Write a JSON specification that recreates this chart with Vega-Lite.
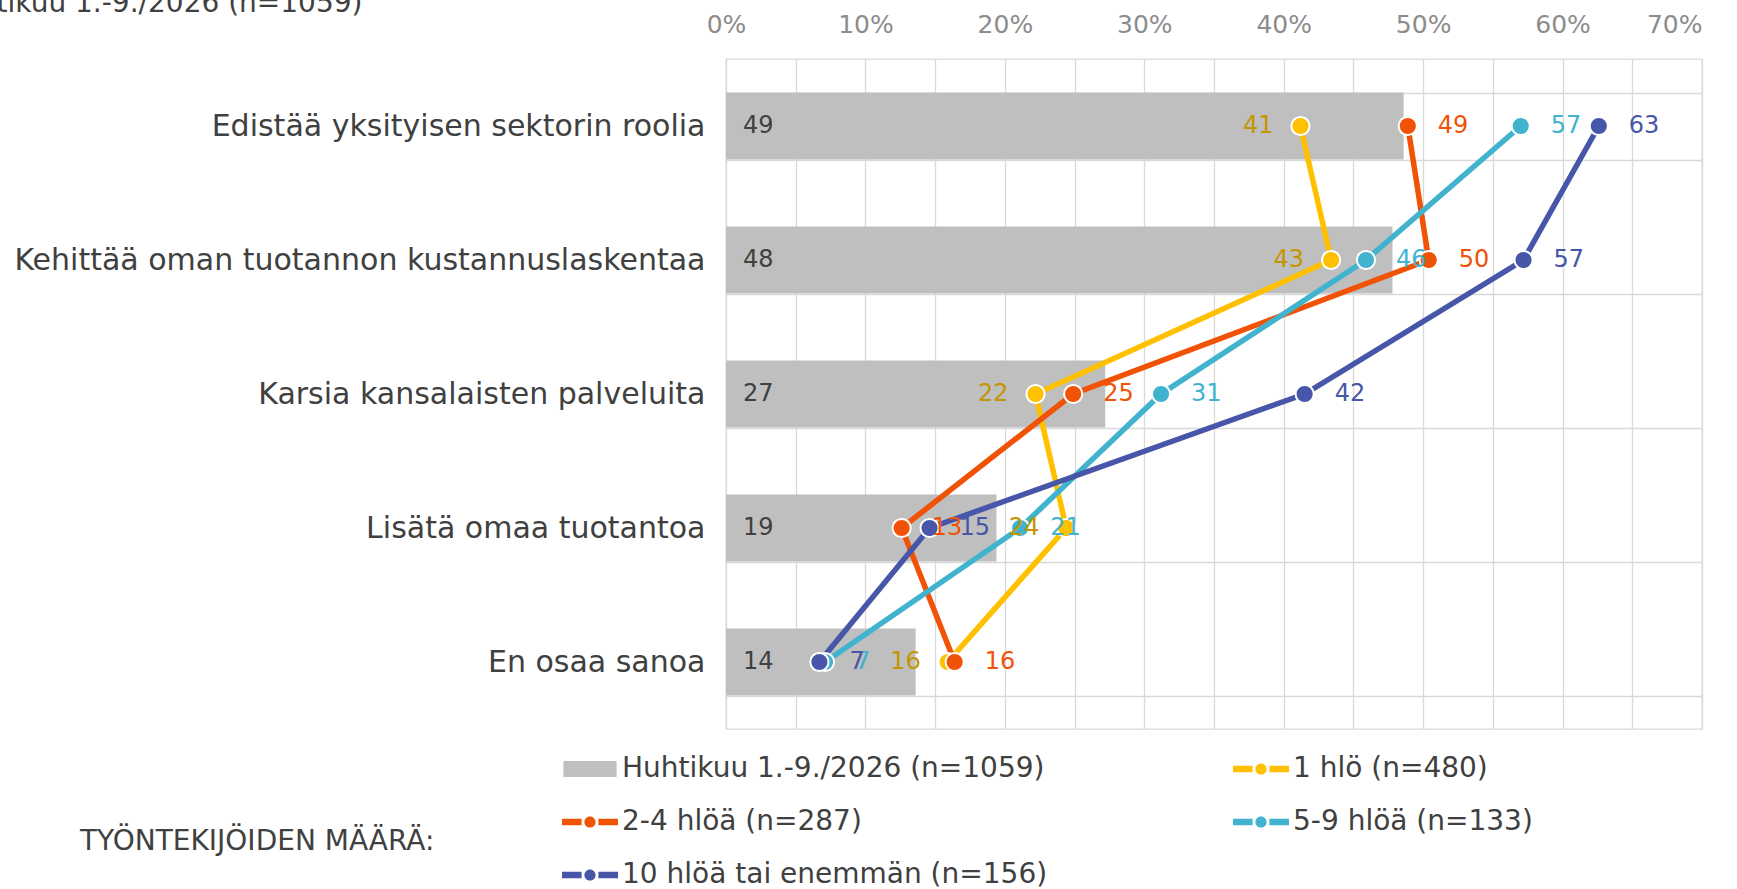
{
  "$schema": "https://vega.github.io/schema/vega-lite/v6.json",
  "autosize": {"type": "none"},
  "width": 976,
  "height": 670,
  "padding": {"left": 726, "top": 59, "right": 35, "bottom": 160},
  "background": "white",
  "title": {
    "text": "Huhtikuu 1.-9./2026 (n=1059)",
    "anchor": "start",
    "frame": "group",
    "fontSize": 28,
    "fontWeight": "normal",
    "color": "#404040",
    "font": "DejaVu Sans",
    "baseline": "alphabetic",
    "dx": -786,
    "dy": 40,
    "offset": 12
  },
  "datasets": {
    "bars": [
      {"category": "Edistää yksityisen sektorin roolia", "series": "Huhtikuu 1.-9./2026 (n=1059)", "value": 48.6},
      {"category": "Kehittää oman tuotannon kustannuslaskentaa", "series": "Huhtikuu 1.-9./2026 (n=1059)", "value": 47.8},
      {"category": "Karsia kansalaisten palveluita", "series": "Huhtikuu 1.-9./2026 (n=1059)", "value": 27.2},
      {"category": "Lisätä omaa tuotantoa", "series": "Huhtikuu 1.-9./2026 (n=1059)", "value": 19.4},
      {"category": "En osaa sanoa", "series": "Huhtikuu 1.-9./2026 (n=1059)", "value": 13.6}
    ],
    "lines": [
      {"category": "Edistää yksityisen sektorin roolia", "idx": 1, "series": "1 hlö (n=480)", "value": 41.2},
      {"category": "Kehittää oman tuotannon kustannuslaskentaa", "idx": 2, "series": "1 hlö (n=480)", "value": 43.4},
      {"category": "Karsia kansalaisten palveluita", "idx": 3, "series": "1 hlö (n=480)", "value": 22.2},
      {"category": "Lisätä omaa tuotantoa", "idx": 4, "series": "1 hlö (n=480)", "value": 24.4},
      {"category": "En osaa sanoa", "idx": 5, "series": "1 hlö (n=480)", "value": 15.9},
      {"category": "Edistää yksityisen sektorin roolia", "idx": 1, "series": "2-4 hlöä (n=287)", "value": 48.9},
      {"category": "Kehittää oman tuotannon kustannuslaskentaa", "idx": 2, "series": "2-4 hlöä (n=287)", "value": 50.4},
      {"category": "Karsia kansalaisten palveluita", "idx": 3, "series": "2-4 hlöä (n=287)", "value": 24.9},
      {"category": "Lisätä omaa tuotantoa", "idx": 4, "series": "2-4 hlöä (n=287)", "value": 12.6},
      {"category": "En osaa sanoa", "idx": 5, "series": "2-4 hlöä (n=287)", "value": 16.4},
      {"category": "Edistää yksityisen sektorin roolia", "idx": 1, "series": "5-9 hlöä (n=133)", "value": 57.0},
      {"category": "Kehittää oman tuotannon kustannuslaskentaa", "idx": 2, "series": "5-9 hlöä (n=133)", "value": 45.9},
      {"category": "Karsia kansalaisten palveluita", "idx": 3, "series": "5-9 hlöä (n=133)", "value": 31.2},
      {"category": "Lisätä omaa tuotantoa", "idx": 4, "series": "5-9 hlöä (n=133)", "value": 21.1},
      {"category": "En osaa sanoa", "idx": 5, "series": "5-9 hlöä (n=133)", "value": 7.1},
      {"category": "Edistää yksityisen sektorin roolia", "idx": 1, "series": "10 hlöä tai enemmän (n=156)", "value": 62.6},
      {"category": "Kehittää oman tuotannon kustannuslaskentaa", "idx": 2, "series": "10 hlöä tai enemmän (n=156)", "value": 57.2},
      {"category": "Karsia kansalaisten palveluita", "idx": 3, "series": "10 hlöä tai enemmän (n=156)", "value": 41.5},
      {"category": "Lisätä omaa tuotantoa", "idx": 4, "series": "10 hlöä tai enemmän (n=156)", "value": 14.6},
      {"category": "En osaa sanoa", "idx": 5, "series": "10 hlöä tai enemmän (n=156)", "value": 6.7}
    ]
  },
  "encoding": {
    "y": {
      "field": "category",
      "type": "nominal",
      "sort": ["Edistää yksityisen sektorin roolia", "Kehittää oman tuotannon kustannuslaskentaa", "Karsia kansalaisten palveluita", "Lisätä omaa tuotantoa", "En osaa sanoa"],
      "scale": {"paddingInner": 0.5, "paddingOuter": 0.25},
      "axis": {
        "title": null,
        "grid": true,
        "gridColor": "#D9D9D9",
        "gridWidth": 1.3,
        "tickBand": "extent",
        "ticks": false,
        "tickSize": 0,
        "domain": false,
        "labelFontSize": 30,
        "labelColor": "#404040",
        "labelPadding": 21,
        "labelLimit": 1000
      }
    },
    "x": {
      "field": "value",
      "type": "quantitative",
      "scale": {"domain": [0, 70], "nice": false},
      "axis": {
        "orient": "top",
        "title": null,
        "values": [0, 5, 10, 15, 20, 25, 30, 35, 40, 45, 50, 55, 60, 65, 70],
        "labelExpr": "datum.value % 10 === 0 ? datum.value + '%' : ''",
        "labelAlign": {"condition": {"test": "datum.value === 70", "value": "right"}, "value": "center"},
        "grid": true,
        "gridColor": "#D9D9D9",
        "gridWidth": 1.3,
        "ticks": false,
        "tickSize": 0,
        "domain": false,
        "labelFontSize": 25,
        "labelColor": "#8C8C8C",
        "labelPadding": 22,
        "labelFlush": false,
        "labelOverlap": false
      }
    }
  },
  "layer": [
    {
      "data": {"name": "bars"},
      "mark": {"type": "bar"},
      "encoding": {
        "color": {
          "field": "series",
          "type": "nominal",
          "scale": {
            "domain": ["Huhtikuu 1.-9./2026 (n=1059)", "1 hlö (n=480)", "2-4 hlöä (n=287)", "5-9 hlöä (n=133)", "10 hlöä tai enemmän (n=156)"],
            "range": ["#BFBFBF", "#FFC000", "#F05206", "#41B3CE", "#4756A8"]
          },
          "legend": {
            "title": "TYÖNTEKIJÖIDEN MÄÄRÄ:",
            "orient": "none",
            "direction": "horizontal",
            "legendX": -646,
            "legendY": 682,
            "columns": 2,
            "gridAlign": "each",
            "columnPadding": 185,
            "rowPadding": 11,
            "padding": 0,
            "titleOrient": "left",
            "titleAnchor": "middle",
            "titleBaseline": "middle",
            "titlePadding": 127,
            "titleFontSize": 28,
            "titleFontWeight": "normal",
            "titleColor": "#404040",
            "titleLimit": 1000,
            "labelFontSize": 28,
            "labelColor": "#404040",
            "labelLimit": 1000,
            "labelOffset": 4,
            "symbolSize": 3136,
            "symbolStrokeWidth": 0,
            "encode": {
              "title": {"update": {"dy": {"value": 27}}},
              "symbols": {
                "update": {
                  "shape": {"signal": "datum.value === 'Huhtikuu 1.-9./2026 (n=1059)' ? 'M-0.95,-0.29H0.95V0.29H-0.95Z' : 'M-1,-0.12H-0.3V0.12H-1Z M0.3,-0.12H1V0.12H0.3Z M0.2,0A0.2,0.2 0 1 1 -0.2,0A0.2,0.2 0 1 1 0.2,0Z'"},
                  "fill": {"signal": "scale('color', datum.value)"},
                  "stroke": {"value": "transparent"},
                  "strokeWidth": {"value": 0},
                  "opacity": {"value": 1},
                  "fillOpacity": {"value": 1}
                }
              }
            }
          }
        }
      }
    },
    {
      "data": {"name": "bars"},
      "mark": {"type": "text", "align": "left", "baseline": "middle", "dx": 17, "fontSize": 24, "color": "#404040"},
      "encoding": {
        "x": {"datum": 0},
        "text": {"field": "value", "format": ".0f"}
      }
    },
    {
      "data": {"name": "lines"},
      "mark": {"type": "line", "strokeWidth": 5.5},
      "encoding": {
        "color": {"field": "series", "type": "nominal"},
        "order": {"field": "idx", "type": "quantitative"},
        "detail": {"field": "series"}
      }
    },
    {
      "data": {"name": "lines"},
      "mark": {"type": "point", "filled": true, "opacity": 1, "size": 330, "stroke": "white", "strokeWidth": 2, "strokeOpacity": 1},
      "encoding": {
        "color": {"field": "series", "type": "nominal"}
      }
    },
    {
      "data": {"name": "lines"},
      "transform": [{"filter": "datum.series === '1 hlö (n=480)'"}],
      "mark": {"type": "text", "align": "right", "baseline": "middle", "dx": -27, "fontSize": 24, "color": "#C39600"},
      "encoding": {
        "text": {"field": "value", "format": ".0f"}
      }
    },
    {
      "data": {"name": "lines"},
      "transform": [{"filter": "datum.series !== '1 hlö (n=480)'"}],
      "mark": {"type": "text", "align": "left", "baseline": "middle", "dx": 30, "fontSize": 24},
      "encoding": {
        "text": {"field": "value", "format": ".0f"},
        "color": {"field": "series", "type": "nominal"}
      }
    }
  ],
  "resolve": {"scale": {"color": "shared"}, "legend": {"color": "shared"}},
  "config": {
    "font": "DejaVu Sans",
    "view": {"stroke": "#D9D9D9", "strokeWidth": 1.3}
  }
}
